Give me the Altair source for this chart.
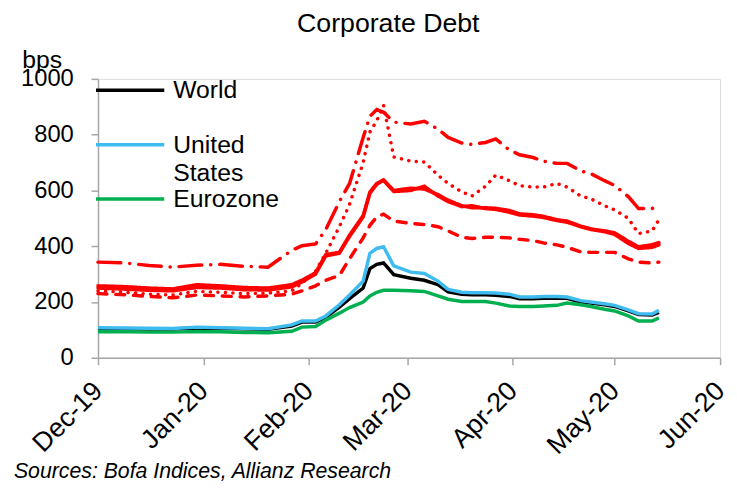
import altair as alt
import pandas as pd

# ---- data (bps) ----
dates = ["2019-12-01", "2019-12-09", "2019-12-16", "2019-12-23", "2019-12-30",
         "2020-01-06", "2020-01-13", "2020-01-20", "2020-01-27", "2020-01-30",
         "2020-02-03", "2020-02-06", "2020-02-10", "2020-02-13", "2020-02-17",
         "2020-02-19", "2020-02-21", "2020-02-23", "2020-02-26", "2020-03-02",
         "2020-03-06", "2020-03-10", "2020-03-13", "2020-03-17", "2020-03-20",
         "2020-03-24", "2020-03-27", "2020-03-31", "2020-04-03", "2020-04-07",
         "2020-04-10", "2020-04-14", "2020-04-17", "2020-04-21", "2020-04-24",
         "2020-04-28", "2020-05-01", "2020-05-05", "2020-05-08", "2020-05-12",
         "2020-05-14"]

world = [104, 104, 103, 103, 107, 105, 104, 102, 114, 128,
         128, 145, 182, 212, 250, 320, 335, 340, 298, 285,
         278, 262, 236, 228, 226, 226, 224, 220, 212, 212,
         213, 214, 213, 200, 196, 190, 184, 168, 155, 153, 163]
united_states = [108, 107, 106, 105, 110, 108, 106, 104, 118, 132,
                 132, 150, 190, 225, 275, 375, 392, 398, 330, 307,
                 302, 275, 245, 235, 233, 233, 232, 228, 218, 218,
                 220, 220, 218, 205, 200, 194, 188, 172, 158, 157, 170]
eurozone = [93, 93, 92, 92, 94, 93, 91, 90, 95, 110,
            112, 135, 160, 180, 200, 222, 235, 242, 242, 240,
            238, 222, 210, 202, 202, 202, 196, 186, 184, 184,
            186, 188, 196, 190, 184, 174, 168, 150, 132, 132, 143]

hy_solid_1 = [258, 255, 250, 247, 262, 258, 252, 250, 262, 278,
              305, 370, 378, 440, 510, 595, 625, 638, 600, 608,
              605, 585, 565, 545, 538, 538, 536, 528, 516, 513,
              507, 495, 490, 472, 462, 455, 448, 418, 398, 405, 413]
hy_solid_2 = [250, 246, 242, 240, 252, 250, 244, 243, 254, 272,
              300, 365, 375, 435, 505, 590, 622, 636, 596, 600,
              615, 580, 560, 542, 545, 535, 532, 522, 512, 508,
              503, 492, 486, 470, 460, 452, 442, 410, 392, 396, 405]
hy_dashed = [230, 226, 220, 215, 225, 222, 218, 222, 228, 240,
             258, 278, 295, 355, 430, 475, 505, 515, 490, 482,
             478, 470, 455, 432, 428, 432, 432, 430, 425, 420,
             412, 405, 396, 380, 378, 378, 378, 355, 343, 340, 343]
hy_dotted = [240, 235, 228, 225, 238, 235, 230, 232, 240, 268,
             310, 375, 470, 550, 700, 810, 850, 905, 720, 705,
             702, 655, 625, 595, 580, 615, 655, 635, 617, 612,
             612, 625, 612, 580, 570, 545, 530, 500, 445, 455, 495]
hy_dashdot = [343, 340, 331, 325, 332, 335, 328, 325, 385, 402,
              408, 460, 560, 625, 790, 866, 890, 880, 845, 838,
              848, 820, 790, 770, 765, 772, 785, 745, 728, 718,
              705, 697, 697, 670, 660, 635, 618, 578, 535, 535, 545]

legend_series = ["World", "United States", "Eurozone"]
legend_colors = ["#000000", "#3EBCF0", "#00B050"]
red_series = ["HY solid 1", "HY solid 2", "HY dashed", "HY dotted", "HY dash-dot"]
red_dashes = [[1, 0], [1, 0], [9, 9], [0.1, 7.5], [23, 9, 0.1, 9]]

rows = []
for name, vals in zip(legend_series, [world, united_states, eurozone]):
    for d, v in zip(dates, vals):
        rows.append({"date": d, "series": name, "bps": v})
main_df = pd.DataFrame(rows)

red_rows = []
for name, vals in zip(red_series, [hy_solid_1, hy_solid_2, hy_dashed, hy_dotted, hy_dashdot]):
    for d, v in zip(dates, vals):
        red_rows.append({"date": d, "series": name, "bps": v})
red_df = pd.DataFrame(red_rows)

FONT = "Liberation Sans"
AXIS_GRAY = "#A6A6A6"

month_ticks = [alt.DateTime(year=2019, month=12, date=1, utc=True)] + [
    alt.DateTime(year=2020, month=m, date=1, utc=True) for m in range(1, 7)]

x_enc = alt.X(
    "date:T",
    title=None,
    scale=alt.Scale(type="utc", domain=[month_ticks[0], month_ticks[-1]]),
    axis=alt.Axis(values=month_ticks,
                  labelExpr="utcFormat(datum.value, '%b-%y')",
                  labelAngle=-45, labelAlign="right", labelBaseline="middle",
                  labelPadding=22, labelFont=FONT, labelFontSize=27,
                  labelColor="black", tickSize=7, tickColor=AXIS_GRAY,
                  tickWidth=1.5, domainColor=AXIS_GRAY, domainWidth=1.5,
                  grid=False, labelOverlap=False),
)
y_enc = alt.Y(
    "bps:Q",
    scale=alt.Scale(domain=[0, 1000], nice=False, zero=True),
    axis=alt.Axis(values=[0, 200, 400, 600, 800, 1000], format="d", title="bps",
                  titleAngle=0, titleX=-77, titleY=-12, titleAlign="left",
                  titleBaseline="alphabetic", titleFont=FONT, titleFontSize=25,
                  titleFontWeight="normal", titleColor="black",
                  labelFont=FONT, labelFontSize=24, labelColor="black",
                  labelPadding=18, tickSize=7, tickColor=AXIS_GRAY, tickWidth=1.5,
                  domainColor=AXIS_GRAY, domainWidth=1.5, grid=False),
)

red = alt.Chart(red_df).mark_line(strokeWidth=3.5, strokeCap="round", color="#FF0000").encode(
    x=x_enc, y=y_enc,
    strokeDash=alt.StrokeDash("series:N", scale=alt.Scale(domain=red_series, range=red_dashes),
                              legend=None),
    detail="series:N",
)

color_scale = alt.Scale(domain=legend_series, range=legend_colors)
legend = alt.Legend(title=None, orient="none", legendX=-4, legendY=-1,
                    symbolType="stroke", symbolSize=4761, symbolStrokeWidth=3.5,
                    labelFont=FONT, labelFontSize=25, labelColor="black",
                    labelOffset=7, rowPadding=0, padding=0, clipHeight=25,
                    labelBaseline="middle",
                    labelExpr="datum.label == 'United States' ? ['United', 'States'] : [datum.label, ' ']")

layers = [red]
for name in legend_series:
    layers.append(
        alt.Chart(main_df).transform_filter(alt.datum.series == name)
        .mark_line(strokeWidth=3.5)
        .encode(x=x_enc, y=y_enc,
                color=alt.Color("series:N", scale=color_scale, legend=legend))
    )

source = alt.Chart(pd.DataFrame({"t": ["Sources: Bofa Indices, Allianz Research"]})).mark_text(
    align="left", baseline="alphabetic", font=FONT, fontSize=21.5, fontStyle="italic", color="black"
).encode(text="t:N", x=alt.value(-85), y=alt.value(404))

chart = alt.layer(*layers, source).properties(
    width=629, height=282,
    title=alt.TitleParams("Corporate Debt", font=FONT, fontSize=27, fontWeight="normal",
                          color="black", anchor="middle", dx=-21, offset=9),
    padding={"left": 91, "top": 69, "right": 9, "bottom": 130},
    autosize=alt.AutoSizeParams(type="none"),
).configure_view(stroke=None).configure(
    style={"guide-label": {"lineHeight": 29}}
)

chart.save("out.html", embed_options={"renderer": "svg", "actions": False})
